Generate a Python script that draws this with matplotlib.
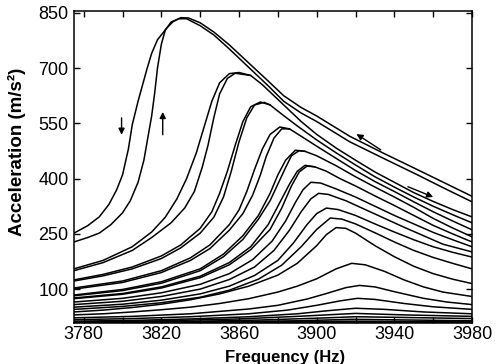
import matplotlib

matplotlib.use("Agg")
import matplotlib.pyplot as plt

# Highest drive level: separate downward and upward sweeps.
c1_down_hz = [3775, 3782, 3788, 3793, 3797, 3800, 3803, 3805, 3808, 3812.6, 3815, 3818,
              3823, 3826, 3830, 3834, 3840, 3847, 3855, 3866, 3875, 3883, 3892, 3900,
              3917, 3934, 3952, 3966, 3980]
c1_down_acc = [252, 272, 296, 330, 370, 410, 480, 546, 610, 698, 740, 777,
               810, 826, 837, 836, 823, 798, 763, 709, 665, 625, 593, 570,
               515, 470, 424, 388, 352]
c1_up_hz = [3775, 3782, 3788, 3794, 3800, 3804, 3808, 3811, 3813, 3815, 3816.5, 3818,
            3820, 3822, 3825, 3829, 3833, 3840, 3847, 3855, 3866, 3875, 3883,
            3892, 3900, 3917, 3934, 3952, 3966, 3980]
c1_up_acc = [228, 240, 252, 275, 307, 340, 390, 450, 510, 570, 630, 700,
             765, 803, 825, 834, 834, 815, 790, 752, 697, 652, 610,
             578, 555, 500, 456, 410, 373, 337]

c2_down_hz = [3775, 3790, 3805, 3815, 3822, 3828, 3833, 3838, 3842, 3846, 3850, 3855, 3860, 3866,
              3872, 3878, 3885, 3892, 3900, 3910, 3920, 3930, 3940, 3950, 3960, 3970, 3980]
c2_down_acc = [155, 178, 215, 255, 295, 345, 400, 470, 540, 610, 660, 685, 688, 680,
               655, 625, 590, 555, 520, 483, 450, 418, 390, 362, 338, 316, 296]
c2_up_hz = [3775, 3790, 3805, 3815, 3825, 3832, 3837, 3841, 3844, 3847, 3850, 3854, 3858, 3866]
c2_up_acc = [150, 172, 205, 240, 280, 320, 365, 430, 490, 565, 630, 672, 686, 680]

c3_down_hz = [3775, 3790, 3805, 3820, 3830, 3840, 3846, 3850, 3854, 3858, 3862, 3866, 3871, 3876,
              3882, 3890, 3900, 3910, 3920, 3930, 3940, 3950, 3960, 3970, 3980]
c3_down_acc = [125, 140, 160, 190, 220, 265, 310, 360, 420, 490, 555, 595, 608, 600,
               575, 543, 505, 470, 437, 405, 377, 350, 325, 302, 280]
c3_up_hz = [3775, 3790, 3805, 3820, 3830, 3840, 3847, 3852, 3856, 3860, 3864, 3868, 3873, 3876]
c3_up_acc = [122, 136, 155, 183, 212, 252, 295, 350, 420, 500, 565, 600, 607, 600]

c4_down_hz = [3775, 3800, 3820, 3835, 3845, 3855, 3860, 3864, 3868, 3872, 3876, 3881, 3886,
              3892, 3900, 3910, 3920, 3930, 3940, 3950, 3960, 3970, 3980]
c4_down_acc = [103, 122, 150, 185, 220, 275, 315, 365, 425, 480, 520, 540, 535,
               515, 488, 455, 422, 392, 365, 337, 310, 285, 261]
c4_up_hz = [3775, 3800, 3820, 3835, 3845, 3855, 3862, 3867, 3871, 3874, 3878, 3882, 3886]
c4_up_acc = [100, 118, 145, 178, 210, 260, 305, 355, 410, 460, 510, 535, 535]

c5_down_hz = [3775, 3800, 3820, 3840, 3852, 3862, 3870, 3876, 3880, 3884, 3889, 3894,
              3900, 3910, 3920, 3930, 3940, 3950, 3960, 3970, 3980]
c5_down_acc = [84, 99, 120, 155, 195, 245, 300, 360, 410, 450, 477, 474,
               462, 435, 405, 377, 350, 322, 292, 266, 242]
c5_up_hz = [3775, 3800, 3820, 3840, 3852, 3862, 3870, 3876, 3880, 3884, 3887, 3891, 3894]
c5_up_acc = [82, 96, 116, 150, 188, 235, 290, 340, 385, 430, 462, 476, 474]

c6_down_hz = [3775, 3800, 3820, 3840, 3855, 3866, 3875, 3881, 3886, 3890, 3894, 3899,
              3905, 3912, 3920, 3930, 3940, 3950, 3960, 3970, 3980]
c6_down_acc = [76, 88, 106, 135, 172, 215, 275, 335, 385, 420, 436, 432,
               420, 400, 380, 353, 327, 300, 273, 250, 228]
c6_up_hz = [3775, 3800, 3820, 3840, 3855, 3866, 3876, 3882, 3887, 3891, 3895, 3899]
c6_up_acc = [74, 86, 103, 131, 166, 207, 262, 320, 380, 418, 434, 432]

c7_hz = [3775, 3800, 3820, 3840, 3855, 3867, 3877, 3884, 3889, 3893, 3897, 3902,
         3910, 3920, 3930, 3940, 3950, 3960, 3970, 3980]
c7_acc = [65, 75, 90, 113, 142, 180, 230, 285, 335, 370, 390, 388,
          372, 350, 325, 300, 277, 254, 234, 215]

c8_hz = [3775, 3800, 3820, 3840, 3855, 3868, 3878, 3886, 3892, 3897, 3901, 3906,
         3915, 3925, 3935, 3945, 3955, 3965, 3980]
c8_acc = [58, 67, 80, 100, 126, 160, 205, 260, 310, 345, 360, 357,
          340, 316, 292, 268, 245, 222, 201]

c9_hz = [3775, 3800, 3820, 3840, 3855, 3868, 3880, 3888, 3895, 3900, 3905, 3911,
         3920, 3930, 3940, 3950, 3960, 3970, 3980]
c9_acc = [51, 59, 70, 87, 108, 137, 178, 225, 275, 305, 320, 316,
          300, 277, 255, 234, 215, 200, 187]

c10_hz = [3775, 3800, 3820, 3840, 3855, 3870, 3882, 3892, 3900, 3907, 3913,
          3920, 3930, 3940, 3950, 3960, 3970, 3980]
c10_acc = [45, 53, 63, 78, 97, 127, 165, 215, 262, 293, 290,
           277, 253, 228, 205, 186, 170, 155]

c11_hz = [3775, 3790, 3805, 3820, 3835, 3850, 3865, 3880, 3890, 3900, 3905, 3910,
          3915, 3920, 3930, 3940, 3950, 3960, 3970, 3980]
c11_acc = [38, 43, 50, 59, 71, 87, 108, 138, 170, 218, 248, 267,
           265, 252, 218, 188, 162, 142, 127, 115]

c12_hz = [3775, 3790, 3805, 3820, 3835, 3850, 3865, 3880, 3890, 3900, 3910, 3918,
          3925, 3935, 3945, 3955, 3965, 3980]
c12_acc = [30, 33, 38, 44, 51, 61, 74, 92, 108, 128, 155, 170,
           166, 148, 125, 106, 92, 80]

c13_hz = [3775, 3805, 3835, 3865, 3880, 3895, 3905, 3915, 3922, 3930, 3940, 3955, 3967, 3980]
c13_acc = [22, 26, 33, 46, 56, 73, 88, 104, 110, 106, 93, 75, 65, 58]

c14_hz = [3775, 3805, 3835, 3865, 3885, 3900, 3912, 3921, 3930, 3945, 3960, 3980]
c14_acc = [17, 20, 25, 33, 43, 56, 68, 75, 72, 61, 52, 45]

c15_hz = [3775, 3805, 3835, 3865, 3890, 3905, 3920, 3935, 3955, 3980]
c15_acc = [13, 15, 19, 25, 33, 41, 48, 45, 38, 33]

c16_hz = [3775, 3820, 3860, 3890, 3920, 3945, 3980]
c16_acc = [11, 14, 19, 26, 34, 30, 26]

c17_hz = [3775, 3830, 3870, 3900, 3920, 3945, 3980]
c17_acc = [10, 12, 16, 21, 25, 23, 20]

c18_hz = [3775, 3840, 3890, 3918, 3950, 3980]
c18_acc = [9, 11, 14, 18, 16, 14]

c19_hz = [3775, 3850, 3918, 3950, 3980]
c19_acc = [8.5, 10, 13, 12, 11]

c20_hz = [3775, 3880, 3918, 3980]
c20_acc = [8.2, 9, 10.5, 9.5]

curves = [
    (c1_down_hz, c1_down_acc), (c1_up_hz, c1_up_acc),
    (c2_down_hz, c2_down_acc), (c2_up_hz, c2_up_acc),
    (c3_down_hz, c3_down_acc), (c3_up_hz, c3_up_acc),
    (c4_down_hz, c4_down_acc), (c4_up_hz, c4_up_acc),
    (c5_down_hz, c5_down_acc), (c5_up_hz, c5_up_acc),
    (c6_down_hz, c6_down_acc), (c6_up_hz, c6_up_acc),
    (c7_hz, c7_acc), (c8_hz, c8_acc), (c9_hz, c9_acc), (c10_hz, c10_acc),
    (c11_hz, c11_acc), (c12_hz, c12_acc), (c13_hz, c13_acc), (c14_hz, c14_acc),
    (c15_hz, c15_acc), (c16_hz, c16_acc), (c17_hz, c17_acc), (c18_hz, c18_acc),
    (c19_hz, c19_acc), (c20_hz, c20_acc),
]

x_ticks = [3780, 3820, 3860, 3900, 3940, 3980]
x_minor = [3800, 3840, 3880, 3920, 3960]
y_ticks = [100, 250, 400, 550, 700, 850]

plt.rcParams["font.family"] = ["Liberation Sans", "DejaVu Sans"]

fig = plt.figure(figsize=(4.99, 3.64), dpi=100)
ax = fig.add_axes([74 / 499, 1 - 323 / 364, 398 / 499, 312 / 364])

for hz, acc in curves:
    ax.plot(hz, acc, color="k", linewidth=1.1, solid_joinstyle="round")

# sweep-direction arrows
arrow = dict(arrowstyle="-|>", color="k", linewidth=1.0, mutation_scale=9,
             shrinkA=0, shrinkB=0)
ax.annotate("", xy=(3799.5, 519), xytext=(3799.5, 565), arrowprops=arrow)
ax.annotate("", xy=(3820.7, 581), xytext=(3820.7, 519), arrowprops=arrow)
ax.annotate("", xy=(3920.5, 521), xytext=(3933, 478), arrowprops=arrow)
ax.annotate("", xy=(3960, 350), xytext=(3947, 378), arrowprops=arrow)

ax.set_xlim(3775, 3980)
ax.set_ylim(8, 855)
ax.set_xticks(x_ticks)
ax.set_xticks(x_minor, minor=True)
ax.set_yticks(y_ticks)
ax.tick_params(which="both", direction="in", top=True, right=True,
               labelsize=13, width=1.0, length=4)
ax.tick_params(axis="x", pad=2)
ax.tick_params(axis="y", pad=4)
for s in ax.spines.values():
    s.set_linewidth(1.1)

ax.set_xlabel("Frequency (Hz)", fontsize=12, fontweight="bold")
ax.set_ylabel("Acceleration (m/s²)", fontsize=13.5, fontweight="bold")
ax.xaxis.set_label_coords(0.53, -0.085)
ax.yaxis.set_label_coords(-0.12, 0.55)

fig.savefig("out.png", dpi=100)
